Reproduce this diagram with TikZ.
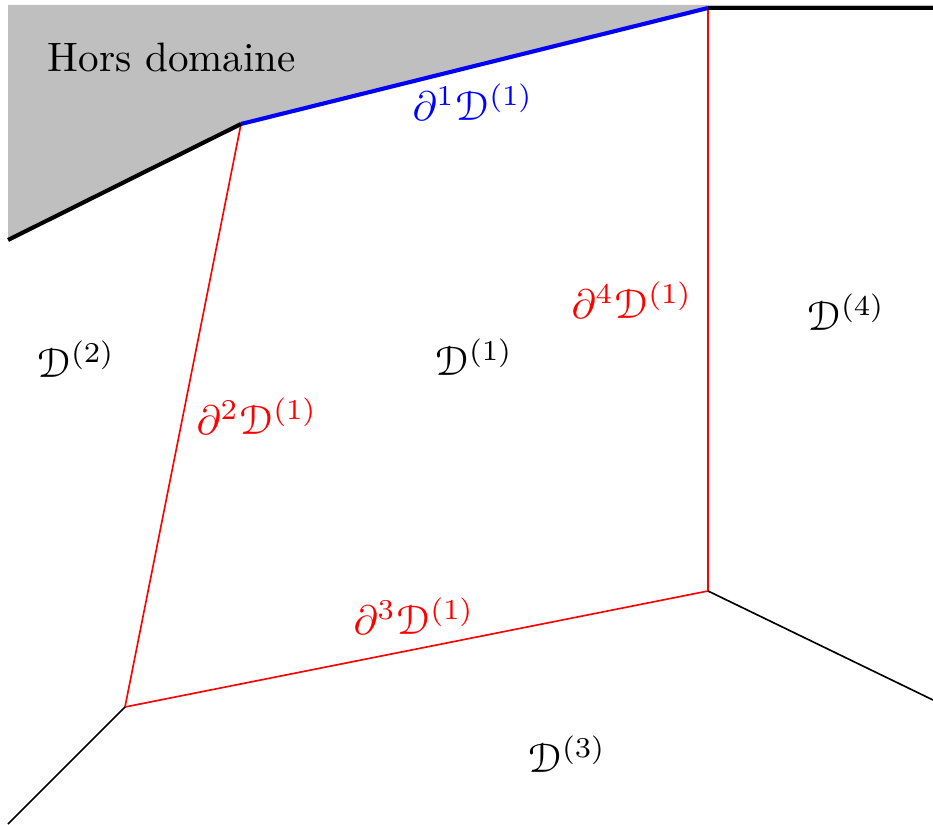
\documentclass[tikz,border=0pt]{standalone}
\usepackage[mathcal]{eucal}
\begin{document}
\begin{tikzpicture}[x=0.2433pt,y=-0.2433pt,
  thickb/.style={line width=1pt},
  thinb/.style={line width=0.4pt},
  lab/.style={inner sep=0pt}]
\useasboundingbox (0,0) rectangle (933,825);
\coordinate (TL) at (8,5);
\coordinate (TR) at (933,5);
\coordinate (TR2) at (933,8);
\coordinate (L) at (8,240);
\coordinate (A) at (241,124);
\coordinate (B) at (708,8);
\coordinate (C) at (708,591);
\coordinate (D) at (125,707);
\coordinate (E) at (8,824);
\coordinate (F) at (933,700);
\fill[lightgray] (TL) -- (TR) -- (TR2) -- (B) -- (A) -- (L) -- cycle;
\draw[red,thinb] (A) -- (D) -- (C) -- (B);
\draw[thinb] (D) -- (E);
\draw[thinb] (C) -- (F);
\draw[thickb] (L) -- (A);
\draw[thickb,blue] (A) -- (B);
\draw[thickb] (B) -- (TR2);
\node[lab] (hd) at (172,57) {Hors domaine};
\node[lab,blue] (b1) at (473,102) {$\partial^1\mathcal{D}^{(1)}$};
\node[lab,red] (b4) at (632,300) {$\partial^4\mathcal{D}^{(1)}$};
\node[lab,red] (b2) at (257,416) {$\partial^2\mathcal{D}^{(1)}$};
\node[lab,red] (b3) at (414,616) {$\partial^3\mathcal{D}^{(1)}$};
\node[lab] (d1) at (474,357) {$\mathcal{D}^{(1)}$};
\node[lab] (d2) at (76,359) {$\mathcal{D}^{(2)}$};
\node[lab] (d3) at (567,754) {$\mathcal{D}^{(3)}$};
\node[lab] (d4) at (846,312) {$\mathcal{D}^{(4)}$};
\end{tikzpicture}
\end{document}
